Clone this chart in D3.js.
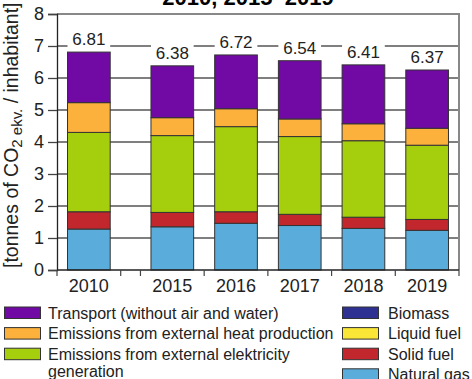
<!DOCTYPE html>
<html>
<head>
<meta charset="utf-8">
<script src="https://cdn.jsdelivr.net/npm/d3@7"></script>
<style>
  body { margin: 0; background: #fff; }
  svg { display: block; font-family: "Liberation Sans", Arial, sans-serif; }
</style>
</head>
<body>
<div id="main-content"></div>
<script>
// Chart data
const years = ["2010", "2015", "2016", "2017", "2018", "2019"];
const totals = ["6.81", "6.38", "6.72", "6.54", "6.41", "6.37"];
const naturalGas = [1.28, 1.35, 1.46, 1.39, 1.30, 1.24];
const solidFuel = [0.54, 0.45, 0.36, 0.35, 0.35, 0.34];
const liquidFuel = [0, 0, 0, 0, 0, 0];
const biomass = [0, 0, 0, 0, 0, 0];
const electricity = [2.48, 2.40, 2.66, 2.43, 2.39, 2.32];
const heat = [0.93, 0.56, 0.56, 0.55, 0.53, 0.53];
const transport = [1.58, 1.62, 1.68, 1.82, 1.84, 1.82];
const yTicks = [0, 1, 2, 3, 4, 5, 6, 7, 8];

// bottom to top in the stack
const series = [
  { key: "gas", name: "Natural gas", color: "#5aaddb", values: naturalGas },
  { key: "solid", name: "Solid fuel", color: "#c1272d", values: solidFuel },
  { key: "liquid", name: "Liquid fuel", color: "#f9e637", values: liquidFuel },
  { key: "bio", name: "Biomass", color: "#2e3192", values: biomass },
  { key: "elec", name: "Emissions from external elektricity generation", color: "#a5cf0c", values: electricity },
  { key: "heat", name: "Emissions from external heat production", color: "#fbb13c", values: heat },
  { key: "trans", name: "Transport (without air and water)", color: "#7109a5", values: transport }
];

const width = 472;
const height = 379;
const plotLeft = 57, plotRight = 459, plotTop = 14, plotBottom = 270;

const svg = d3.select("#main-content")
  .append("svg")
  .attr("width", width)
  .attr("height", height);

// x positions: the axis is broken between 2010 and 2015
const gap = 0.31;
const slot = i => i + (i > 0 ? gap : 0);
const x = d3.scaleLinear().domain([0, years.length + gap]).range([plotLeft, plotRight]);
const step = x(1) - x(0);
const barWidth = step * 0.67;

const y = d3.scaleLinear().domain([0, 8]).range([plotBottom, plotTop]);

// Title (cut off at the top of the picture)
svg.append("text")
  .attr("x", 248)
  .attr("y", 5)
  .attr("text-anchor", "middle")
  .style("font-weight", "bold")
  .style("font-size", "22px")
  .text("2010, 2015–2019");

// Grid lines
svg.append("g")
  .selectAll("line")
  .data(yTicks.filter(t => t > 0 && t < 8))
  .enter()
  .append("line")
  .attr("x1", plotLeft)
  .attr("x2", plotRight)
  .attr("y1", d => y(d))
  .attr("y2", d => y(d))
  .attr("stroke", "#555")
  .attr("stroke-width", 1.3);

// top and right frame
svg.append("path")
  .attr("d", `M${plotLeft},${y(8)}H${plotRight}V${plotBottom}`)
  .attr("fill", "none")
  .attr("stroke", "#888")
  .attr("stroke-width", 2);

// Stack the data
const rows = years.map((yr, i) => {
  const row = { year: yr, i: i };
  series.forEach(s => { row[s.key] = s.values[i]; });
  return row;
});
const stacked = d3.stack().keys(series.map(s => s.key))(rows);

// white boxes behind the value labels
const barTop = i => y(d3.sum(series, s => s.values[i]));
svg.append("g")
  .selectAll("rect")
  .data(rows)
  .enter()
  .append("rect")
  .attr("x", d => x(slot(d.i) + 0.5) - barWidth / 2)
  .attr("width", barWidth)
  .attr("y", d => barTop(d.i) - 21)
  .attr("height", 21)
  .attr("fill", "#fff");

// Bars
stacked.forEach((layer, k) => {
  svg.append("g")
    .selectAll("rect")
    .data(layer.filter(d => d[1] - d[0] > 0))
    .enter()
    .append("rect")
    .attr("x", d => x(slot(d.data.i) + 0.5) - barWidth / 2)
    .attr("width", barWidth)
    .attr("y", d => y(d[1]))
    .attr("height", d => y(d[0]) - y(d[1]))
    .attr("fill", series[k].color)
    .attr("stroke", "#333")
    .attr("stroke-width", 1);
});

// Value labels
svg.append("g")
  .selectAll("text")
  .data(rows)
  .enter()
  .append("text")
  .attr("x", d => x(slot(d.i) + 0.5))
  .attr("y", d => barTop(d.i) - 7)
  .attr("text-anchor", "middle")
  .style("font-size", "17px")
  .attr("fill", "#222")
  .text(d => totals[d.i]);

// Y axis
const yAxis = svg.append("g")
  .attr("transform", `translate(${plotLeft},0)`)
  .call(d3.axisLeft(y).tickValues(yTicks).tickSize(9).tickPadding(4).tickFormat(d3.format("d")));
yAxis.select(".domain").attr("stroke", "#222").attr("stroke-width", 1.3);
yAxis.selectAll(".tick line").attr("stroke", "#444").attr("stroke-width", 1.3);
yAxis.selectAll("text").style("font-size", "18px").attr("fill", "#222");
yAxis.attr("font-family", null);

// X axis with boundary ticks
const boundaries = [0, 1].concat(years.slice(1).map((yr, i) => slot(i + 1) + 1)).concat([slot(1)]);
svg.append("line")
  .attr("x1", plotLeft).attr("x2", plotRight)
  .attr("y1", plotBottom).attr("y2", plotBottom)
  .attr("stroke", "#222").attr("stroke-width", 1.3);
svg.append("g")
  .selectAll("line")
  .data(boundaries)
  .enter()
  .append("line")
  .attr("x1", d => x(d)).attr("x2", d => x(d))
  .attr("y1", plotBottom).attr("y2", plotBottom + 6)
  .attr("stroke", "#444").attr("stroke-width", 1.2);
svg.append("g")
  .selectAll("text")
  .data(rows)
  .enter()
  .append("text")
  .attr("x", d => x(slot(d.i) + 0.5))
  .attr("y", 292)
  .attr("text-anchor", "middle")
  .style("font-size", "18px")
  .attr("fill", "#222")
  .text(d => d.year);

// Y axis title with subscript
const yTitle = svg.append("text")
  .attr("transform", "translate(18,268) rotate(-90)")
  .style("font-size", "19.5px")
  .attr("fill", "#222");
yTitle.append("tspan").text("[tonnes of CO");
yTitle.append("tspan").attr("dy", 4).style("font-size", "15px").text("2 ekv.");
yTitle.append("tspan").attr("dy", -4).text(" / inhabitant]");

// Legend
const legendLeft = ["trans", "heat", "elec"];
const legendRight = ["bio", "liquid", "solid", "gas"];
const rowStep = 20.6;

function drawLegend(keys, sx, tx) {
  keys.forEach((key, i) => {
    const s = series.find(d => d.key === key);
    const g = svg.append("g").attr("transform", `translate(0,${307 + i * rowStep})`);
    g.append("rect")
      .attr("x", sx).attr("y", 0)
      .attr("width", 36).attr("height", 11.5)
      .attr("fill", s.color)
      .attr("stroke", "#333")
      .attr("stroke-width", 1);
    const t = g.append("text")
      .attr("x", tx).attr("y", 11.5)
      .style("font-size", "16px")
      .attr("fill", "#222");
    if (key === "elec") {
      t.append("tspan").text("Emissions from external elektricity");
      t.append("tspan").attr("x", tx).attr("dy", 17).text("generation");
    } else {
      t.text(s.name);
    }
  });
}
drawLegend(legendLeft, 4.5, 48);
drawLegend(legendRight, 342.5, 388);
</script>
</body>
</html>
